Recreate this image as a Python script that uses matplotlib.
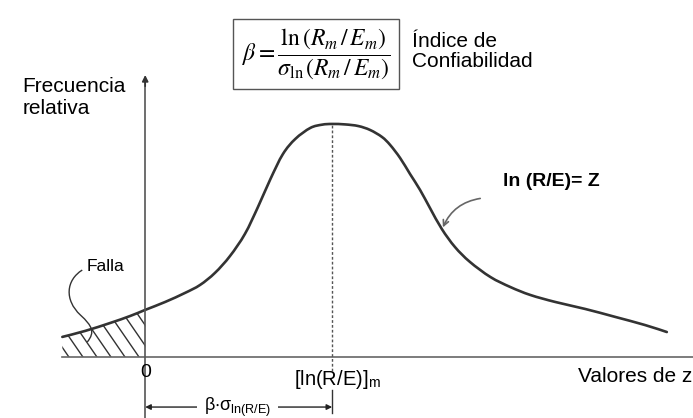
import matplotlib.pyplot as plt
from matplotlib.patches import Polygon, PathPatch
from matplotlib.path import Path
import numpy as np

plt.rcParams['font.family'] = ['Liberation Sans', 'DejaVu Sans']
plt.rcParams['mathtext.fontset'] = 'stix'

# curve: z value, relative frequency (peak = 1)
zVals = [-1.33, -0.96, -0.56, -0.24, 0.0, 0.32, 0.64, 0.88, 1.12, 1.36, 1.60, 1.81, 2.01,
         2.21, 2.41, 2.65, 2.84, 3.00, 3.21, 3.42, 3.61, 3.80, 3.93, 4.09, 4.25, 4.41,
         4.57, 4.76, 4.97, 5.21, 5.54, 5.86, 6.18, 6.58, 7.06, 7.54, 8.02, 8.37]
freqVals = [0.086, 0.112, 0.146, 0.176, 0.202, 0.236, 0.275, 0.309, 0.361, 0.433, 0.528, 0.644, 0.764,
            0.871, 0.936, 0.983, 0.997, 1.000, 0.998, 0.991, 0.974, 0.944, 0.910, 0.854, 0.785, 0.717,
            0.639, 0.549, 0.472, 0.408, 0.343, 0.300, 0.266, 0.236, 0.206, 0.172, 0.137, 0.107]

zMean = 3.0
lineColor = "#333333"


def smoothPath(xs, ys):
    # catmull-rom through the read points, drawn as cubic beziers
    pts = np.column_stack([xs, ys])
    padded = np.vstack([pts[0], pts, pts[-1]])
    verts = [pts[0]]
    codes = [Path.MOVETO]
    for i in range(1, len(padded) - 2):
        p0, p1, p2, p3 = padded[i - 1], padded[i], padded[i + 1], padded[i + 2]
        verts += [p1 + (p2 - p0) / 6, p2 - (p3 - p1) / 6, p2]
        codes += [Path.CURVE4] * 3
    return Path(verts, codes)


fig = plt.figure(figsize=(6.93, 4.18), dpi=100)
ax = fig.add_axes([0, 0, 1, 1])
ax.set_xlim(-2.33, 8.79)
ax.set_ylim(-0.262, 1.532)
ax.axis("off")

# failure region: hatch lines clipped to the area under the curve left of zero
zFail = [z for z in zVals if z <= 0]
fFail = [f for z, f in zip(zVals, freqVals) if z <= 0]
failArea = Polygon(list(zip(zFail, fFail)) + [(0, 0), (zFail[0], 0)], closed=True,
                   facecolor="none", edgecolor="none")
ax.add_patch(failArea)
for zStart in np.arange(-2.35, 0.1, 0.225):
    hatchLine, = ax.plot([zStart, zStart + 0.90], [0.35, 0.0], color=lineColor, lw=1.0)
    hatchLine.set_clip_path(failArea)

# main curve
ax.add_patch(PathPatch(smoothPath(zVals, freqVals), facecolor="none", edgecolor=lineColor,
                       lw=1.9, capstyle="round"))

# baseline and vertical axis
ax.plot([zVals[0], 8.79], [0, 0], color="#666666", linewidth=1.2)
ax.plot([0, 0], [-0.262, 1.18], color="#555555", linewidth=1.2)
ax.annotate("", xy=(0, 1.222), xytext=(0, 1.15),
            arrowprops=dict(arrowstyle="-|>", color="#333333", lw=1.2, mutation_scale=9))

# mean line
ax.plot([zMean, zMean], [-0.06, 1.0], color="#555555", linewidth=1.0, linestyle=(0, (2, 1.5)))
ax.plot([zMean, zMean], [-0.24, -0.14], color="#333333", linewidth=1.0)

# beta * sigma dimension
ax.annotate("", xy=(0, -0.215), xytext=(zMean, -0.215),
            arrowprops=dict(arrowstyle="<|-|>", color="#222222", lw=1.0, mutation_scale=8,
                            shrinkA=0, shrinkB=0))
ax.text(1.48, -0.215, r"$\mathregular{\beta{\cdot}\sigma_{ln(R/E)}}$", fontsize=13,
        ha="center", va="center", bbox=dict(facecolor="white", edgecolor="none", pad=5))

# labels
ax.text(0.0, -0.086, "0", fontsize=14, ha="center", va="baseline")
ax.text(3.08, -0.12, r"[ln(R/E)]$_\mathregular{m}$", fontsize=14.5, ha="center", va="baseline")
ax.text(8.78, -0.107, "Valores de z", fontsize=15, ha="right", va="baseline")
ax.text(-1.97, 1.20, "Frecuencia\nrelativa", fontsize=15, ha="left", va="top", linespacing=1.15)
ax.text(-0.63, 0.39, "Falla", fontsize=12.5, ha="center", va="center")
ax.text(5.74, 0.755, "ln (R/E)= Z", fontsize=14, fontweight="bold", ha="left", va="center")

# pointers
fallaPath = Path([(-1.01, 0.373), (-1.27, 0.330), (-1.30, 0.245), (-1.04, 0.180),
                  (-0.85, 0.133), (-0.80, 0.107), (-0.93, 0.064)],
                 [Path.MOVETO, Path.CURVE4, Path.CURVE4, Path.CURVE4,
                  Path.CURVE4, Path.CURVE4, Path.CURVE4])
ax.add_patch(PathPatch(fallaPath, facecolor="none", edgecolor="#333333", lw=1.0))
ax.annotate("", xy=(4.76, 0.545), xytext=(5.42, 0.682),
            arrowprops=dict(arrowstyle="->", color="#666666", lw=1.2,
                            connectionstyle="arc3,rad=0.3"))

# formula box
ax.text(2.74, 1.30,
        r"$\beta = \dfrac{\ln\left(R_m\,/\,E_m\right)}{\sigma_{\ln}\left(R_m\,/\,E_m\right)}$",
        fontsize=17, ha="center", va="center",
        bbox=dict(boxstyle="square,pad=0.35", facecolor="white", edgecolor="#555555", lw=1.0))
ax.text(4.28, 1.31, "Índice de\nConfiabilidad", fontsize=15, ha="left", va="center",
        linespacing=1.1)

fig.savefig("out.png", dpi=100)
